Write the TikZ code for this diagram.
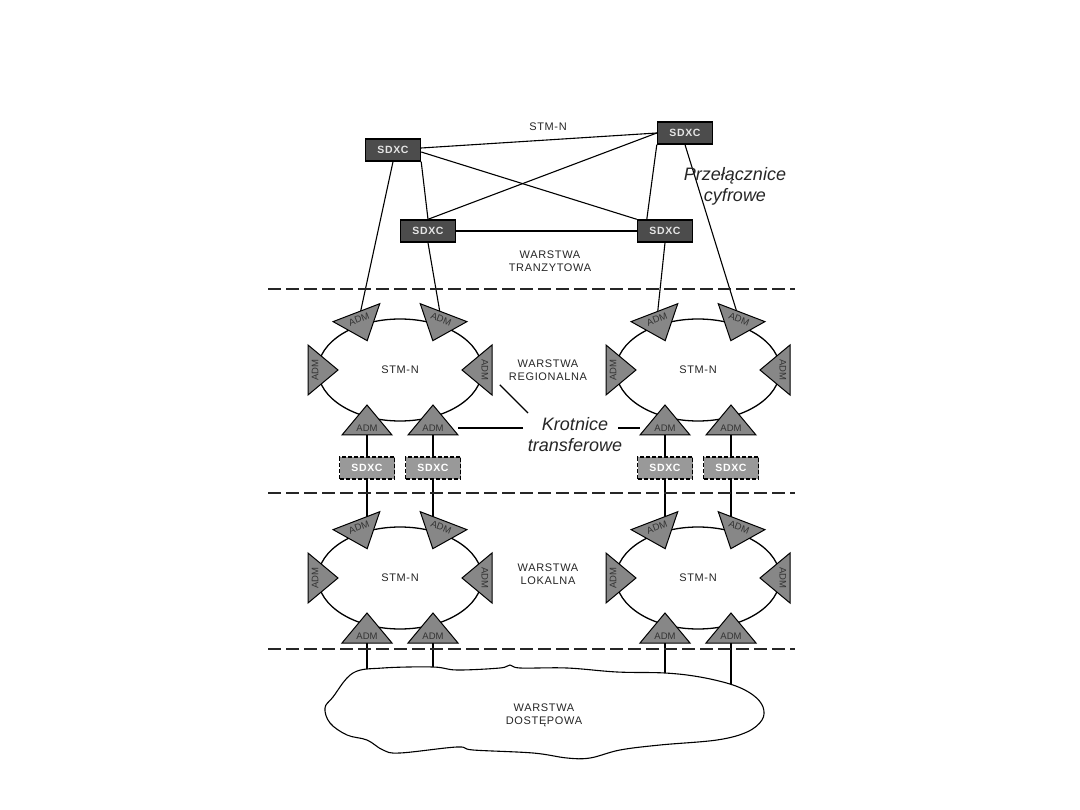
\documentclass[tikz,border=0pt]{standalone}
\usepackage{fontspec}
\setmainfont{Liberation Sans}
\newfontfamily\lblfont[LetterSpace=6]{Liberation Sans}
\usetikzlibrary{backgrounds}

\begin{document}
\begin{tikzpicture}[x=1pt, y=-1pt,
  sdxc/.style={rectangle,draw,line width=1.4pt,fill=black!70,text=black!10,font=\lblfont\bfseries\fontsize{10.5}{12}\selectfont,minimum width=55pt,minimum height=22pt,inner sep=0pt},
  sdxcd/.style={sdxc,dash pattern=on 4pt off 2pt,fill=black!40,text=white},
  ringline/.style={line width=1.3pt},
  lbl/.style={align=center,font=\lblfont\fontsize{11}{13}\selectfont,text=black!85},
  note/.style={align=center,font=\itshape\fontsize{18}{21}\selectfont,text=black!85},
  admtext/.style={transform shape,inner sep=0pt,font=\fontsize{9.5}{11}\selectfont,text=black!80},
  link/.style={line width=1.1pt},
  sep/.style={dash pattern=on 13pt off 5pt,line width=1.4pt,black!85},
  admup/.pic={\filldraw[fill=black!47,line width=1pt] (0,-20) -- (-25,10) -- (25,10) -- cycle;
    \node[admtext] (-t) at (0,3) {ADM};},
  admdn/.pic={\filldraw[fill=black!47,line width=1pt] (0,20) -- (-25,-10) -- (25,-10) -- cycle;
    \node[admtext] (-t) at (0,-3) {ADM};}]
  \useasboundingbox (0,0) rectangle (1080,810);

  % transit layer
  \node[sdxc] (sA) at (393,150) {SDXC};
  \node[sdxc] (sB) at (685,133) {SDXC};
  \node[sdxc] (sC) at (428,231) {SDXC};
  \node[sdxc] (sD) at (665,231) {SDXC};
  \node[lbl] (stm) at (548,127) {STM-N};
  \node[lbl] (tran) at (550,261) {WARSTWA\\TRANZYTOWA};
  \node[note] (przel) at (735,186) {Przełącznice\\cyfrowe};

  \draw[sep] (268,289) -- (795,289);
  \draw[sep] (268,493) -- (795,493);
  \draw[sep] (268,649) -- (795,649);

  % regional rings
  \draw[ringline] (400,370) ellipse [x radius=82, y radius=51];
  \draw[ringline] (698,370) ellipse [x radius=82, y radius=51];
  \node[lbl] (r1) at (400,370) {STM-N};
  \node[lbl] (r2) at (698,370) {STM-N};
  \pic[rotate=21] (r1a) at (360,322) {admdn};
  \pic[rotate=-21] (r1b) at (440,322) {admdn};
  \pic[rotate=90] (r1l) at (318,370) {admdn};
  \pic[rotate=-90] (r1r) at (482,370) {admdn};
  \pic (r1c) at (367,425) {admup};
  \pic (r1d) at (433,425) {admup};
  \pic[rotate=21] (r2a) at (658,322) {admdn};
  \pic[rotate=-21] (r2b) at (738,322) {admdn};
  \pic[rotate=90] (r2l) at (616,370) {admdn};
  \pic[rotate=-90] (r2r) at (780,370) {admdn};
  \pic (r2c) at (665,425) {admup};
  \pic (r2d) at (731,425) {admup};
  \node[lbl] (reg) at (548,370) {WARSTWA\\REGIONALNA};
  \node[note] (krot) at (575,435) {Krotnice\\transferowe};
  \coordinate (kA) at (528,413);
  \coordinate (kB) at (523,428);
  \coordinate (kC) at (618,428);

  \node[sdxcd] (x1) at (367,468) {SDXC};
  \node[sdxcd] (x2) at (433,468) {SDXC};
  \node[sdxcd] (x3) at (665,468) {SDXC};
  \node[sdxcd] (x4) at (731,468) {SDXC};

  % local rings
  \draw[ringline] (400,578) ellipse [x radius=82, y radius=51];
  \draw[ringline] (698,578) ellipse [x radius=82, y radius=51];
  \node[lbl] (l1) at (400,578) {STM-N};
  \node[lbl] (l2) at (698,578) {STM-N};
  \pic[rotate=21] (l1a) at (360,530) {admdn};
  \pic[rotate=-21] (l1b) at (440,530) {admdn};
  \pic[rotate=90] (l1l) at (318,578) {admdn};
  \pic[rotate=-90] (l1r) at (482,578) {admdn};
  \pic (l1c) at (367,633) {admup};
  \pic (l1d) at (433,633) {admup};
  \pic[rotate=21] (l2a) at (658,530) {admdn};
  \pic[rotate=-21] (l2b) at (738,530) {admdn};
  \pic[rotate=90] (l2l) at (616,578) {admdn};
  \pic[rotate=-90] (l2r) at (780,578) {admdn};
  \pic (l2c) at (665,633) {admup};
  \pic (l2d) at (731,633) {admup};
  \node[lbl] (lok) at (548,574) {WARSTWA\\LOKALNA};

  % access layer
  \draw[link,fill=white] plot[smooth cycle,tension=0.6] coordinates {(353,673) (383,668) (433,667) (457,670) (500,668) (510,665) (520,668) (567,668) (617,672) (665,673) (700,677) (733,685) (753,695) (763,707) (762,720) (747,732) (717,740) (660,745) (620,750) (590,758) (567,758) (533,753) (473,750) (457,747) (400,753) (383,750) (367,740) (347,735) (330,723) (325,708) (333,697)};
  \node[lbl] (dost) at (544,715) {WARSTWA\\DOSTĘPOWA};

  \begin{scope}[on background layer]
    \fill[white] (0,0) rectangle (1080,810);
    \draw[link] ([yshift=2pt]sA.east) -- (sB.west);
    \draw[link] ([yshift=-2pt]sA.east) -- (sD.north west);
    \draw[link] (sB.west) -- (sC.north);
    \draw[link] (sC) -- (sD);
    \draw[link] (sA.south east) -- (sC.north);
    \draw[link] (sB.south west) -- ([xshift=10pt]sD.north west);
    \draw[link] (sA.south) -- (r1a-t);
    \draw[link] (sC.south) -- (r1b-t);
    \draw[link] (sD.south) -- (r2a-t);
    \draw[link] (sB.south) -- (r2b-t);
    \draw[link] (r1c-t) -- (x1) -- (x1 |- l1a-t);
    \draw[link] (r1d-t) -- (x2) -- (x2 |- l1b-t);
    \draw[link] (r2c-t) -- (x3) -- (x3 |- l2a-t);
    \draw[link] (r2d-t) -- (x4) -- (x4 |- l2b-t);
    \draw[link] (l1c-t) -- (l1c-t |- dost);
    \draw[link] (l1d-t) -- (l1d-t |- dost);
    \draw[link] (l2c-t) -- (l2c-t |- dost);
    \draw[link] (l2d-t) -- (l2d-t |- dost);
    \draw[link,shorten >=21pt] (kA) -- (r1r-t.center);
    \draw[link,shorten >=25pt] (kB) -- (r1d-t.center);
    \draw[link,shorten >=25pt] (kC) -- (r2c-t.center);
  \end{scope}
\end{tikzpicture}
\end{document}
